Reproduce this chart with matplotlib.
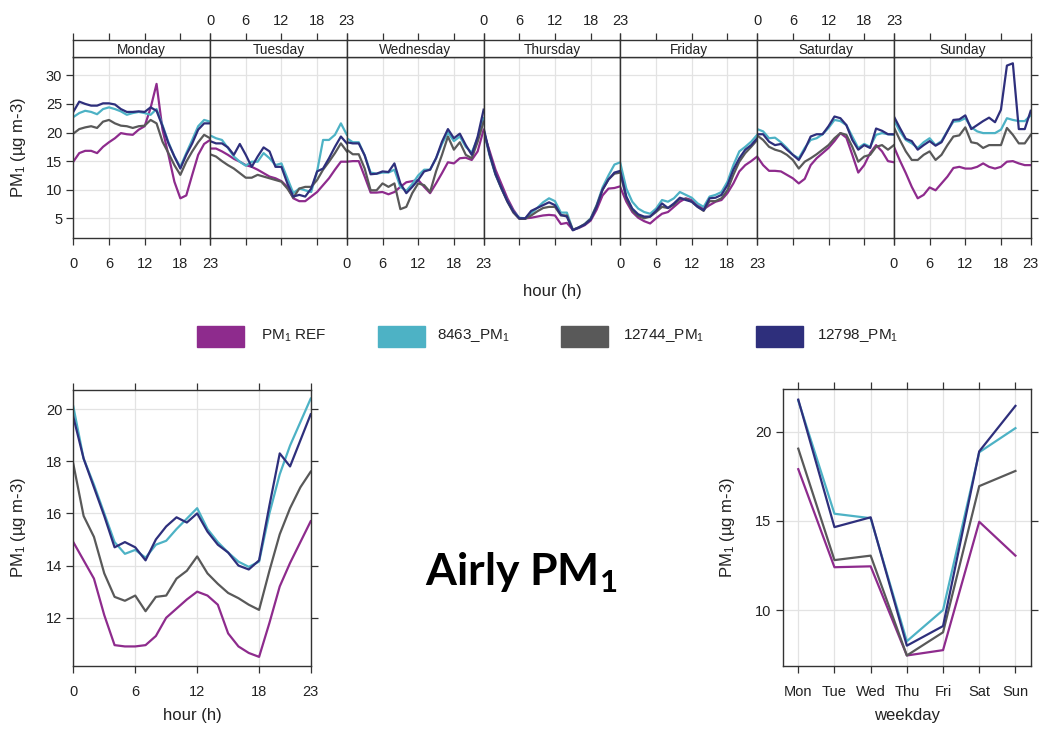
import matplotlib
matplotlib.use("Agg")
import matplotlib.pyplot as plt
from matplotlib.patches import Rectangle

plt.rcParams['font.family'] = ['Liberation Sans', 'DejaVu Sans']
plt.rcParams['mathtext.fontset'] = 'custom'
plt.rcParams['mathtext.rm'] = 'Liberation Sans'
plt.rcParams['mathtext.it'] = 'Liberation Sans:italic'
plt.rcParams['mathtext.bf'] = 'Lato:bold'

# ---- data ----
days = ['Monday', 'Tuesday', 'Wednesday', 'Thursday', 'Friday', 'Saturday', 'Sunday']
weekdays = ['Mon', 'Tue', 'Wed', 'Thu', 'Fri', 'Sat', 'Sun']
hours = list(range(24))
series_names = ['PM$_1$ REF', '8463_PM$_1$', '12744_PM$_1$', '12798_PM$_1$']
series_colors = ['#8E2B8D', '#4DB2C5', '#595959', '#2E2F7C']

# day x hour profiles, one row per weekday (Mon..Sun)
ref_dayhour = [
    [14.9, 16.4, 16.8, 16.8, 16.4, 17.5, 18.3, 19.0, 19.9, 19.7, 19.6, 20.5, 21.1, 24.3, 28.5, 20.5, 16.1, 11.4, 8.5, 9.0, 12.6, 16.1, 18.0, 18.7],
    [17.2, 17.2, 16.7, 16.1, 15.4, 14.9, 14.3, 14.0, 13.5, 12.9, 12.3, 12.0, 11.5, 10.5, 8.5, 8.0, 8.0, 8.8, 9.6, 10.8, 12.0, 13.5, 14.9, 14.9],
    [14.9, 15.0, 15.0, 12.3, 9.5, 9.5, 9.6, 9.2, 9.6, 10.5, 11.3, 11.5, 11.7, 10.5, 9.4, 11.1, 12.9, 14.8, 14.6, 15.5, 15.6, 15.2, 16.7, 20.5],
    [20.0, 16.8, 13.5, 11.0, 8.5, 6.5, 5.0, 5.0, 5.1, 5.3, 5.5, 5.6, 5.5, 4.0, 4.2, 3.0, 3.3, 3.8, 4.6, 6.5, 9.0, 10.2, 10.3, 10.6],
    [10.4, 7.9, 6.1, 5.1, 4.5, 4.1, 5.0, 5.8, 6.1, 7.0, 7.9, 8.5, 8.2, 7.3, 6.6, 7.3, 7.9, 8.2, 9.4, 11.1, 13.2, 14.3, 15.0, 15.8],
    [15.8, 14.3, 13.3, 13.3, 13.2, 12.6, 12.0, 11.1, 11.9, 14.3, 15.5, 16.4, 17.3, 18.5, 19.9, 19.1, 16.1, 13.0, 14.3, 16.4, 17.8, 16.7, 15.0, 14.8],
    [17.5, 15.1, 12.9, 10.5, 8.5, 9.1, 10.4, 9.9, 11.1, 12.3, 13.8, 14.0, 13.7, 13.7, 14.0, 14.6, 14.0, 13.7, 14.0, 14.9, 15.0, 14.6, 14.3, 14.3],
]
s8463_dayhour = [
    [22.7, 23.4, 23.8, 23.6, 23.2, 24.1, 24.4, 24.1, 23.7, 23.1, 23.4, 23.6, 23.4, 23.1, 24.1, 21.3, 18.3, 15.8, 14.0, 16.4, 18.7, 21.1, 22.2, 21.9],
    [19.5, 19.0, 18.7, 17.3, 15.8, 14.9, 14.2, 14.9, 14.9, 16.4, 15.5, 14.3, 14.6, 12.0, 9.4, 10.2, 9.9, 9.6, 13.2, 18.7, 18.7, 19.6, 21.6, 19.6],
    [19.0, 18.3, 18.3, 16.0, 13.0, 12.8, 13.0, 13.0, 13.5, 10.5, 9.8, 11.0, 12.5, 13.5, 13.5, 15.5, 18.0, 20.0, 18.5, 19.3, 17.5, 16.5, 19.0, 22.5],
    [20.3, 16.0, 12.6, 10.2, 8.0, 6.2, 5.1, 5.0, 5.9, 6.8, 7.8, 8.5, 8.0, 6.0, 6.0, 3.0, 3.4, 4.0, 5.0, 7.3, 10.4, 12.5, 14.4, 14.8],
    [14.6, 10.2, 7.9, 6.7, 6.1, 5.8, 6.7, 8.2, 7.9, 8.5, 9.6, 9.1, 8.6, 7.6, 7.0, 8.8, 9.1, 9.6, 11.4, 14.3, 16.7, 17.5, 18.4, 19.6],
    [20.6, 20.2, 19.0, 19.1, 18.3, 17.3, 16.1, 15.5, 17.3, 18.7, 19.0, 19.7, 20.8, 22.2, 22.0, 21.3, 19.3, 17.3, 18.0, 17.5, 19.6, 19.9, 19.7, 19.6],
    [22.2, 20.2, 18.7, 18.1, 17.3, 18.3, 19.0, 17.8, 18.5, 20.3, 21.9, 22.0, 22.5, 20.9, 20.2, 19.9, 19.9, 19.9, 20.5, 22.5, 22.2, 22.0, 22.0, 23.0],
]
s12744_dayhour = [
    [19.8, 20.6, 20.9, 21.1, 20.8, 21.9, 22.2, 21.6, 21.2, 21.1, 20.8, 21.1, 21.2, 22.2, 21.6, 18.4, 16.4, 14.3, 12.6, 14.9, 16.7, 18.3, 19.6, 19.0],
    [16.2, 15.8, 15.0, 14.3, 13.7, 12.9, 12.1, 12.1, 12.6, 12.3, 12.0, 11.7, 11.4, 10.2, 8.6, 10.2, 10.5, 10.5, 11.7, 13.5, 14.9, 16.4, 18.1, 16.7],
    [17.0, 16.2, 16.2, 13.7, 9.9, 9.9, 11.1, 10.5, 11.1, 6.6, 7.0, 9.4, 11.1, 10.8, 9.6, 13.2, 16.1, 19.3, 17.0, 18.3, 16.1, 15.5, 18.4, 21.9],
    [20.5, 16.2, 12.7, 10.2, 7.9, 6.0, 4.9, 4.9, 5.5, 6.2, 6.8, 7.0, 7.0, 5.5, 5.5, 3.0, 3.4, 4.0, 4.9, 7.2, 10.0, 11.8, 12.8, 13.0],
    [12.9, 8.5, 6.4, 5.4, 5.0, 5.3, 6.1, 7.0, 6.8, 7.4, 8.4, 8.4, 7.9, 7.0, 6.3, 8.0, 8.0, 8.5, 9.9, 12.6, 14.9, 16.4, 17.5, 18.7],
    [19.5, 18.7, 17.5, 17.0, 16.7, 16.1, 15.2, 13.7, 14.9, 15.5, 16.2, 17.0, 17.8, 19.0, 19.9, 19.6, 17.5, 14.9, 15.8, 16.1, 17.5, 17.8, 17.0, 17.8],
    [20.9, 18.7, 16.7, 15.2, 15.2, 16.1, 16.7, 15.2, 16.1, 17.8, 19.3, 19.5, 20.9, 18.3, 18.1, 17.3, 17.8, 17.8, 17.8, 20.8, 19.6, 18.1, 18.1, 19.6],
]
s12798_dayhour = [
    [23.6, 25.4, 25.0, 24.7, 24.7, 25.1, 25.1, 24.9, 24.1, 23.6, 23.6, 23.7, 23.6, 24.4, 23.8, 21.1, 18.1, 15.8, 13.7, 16.1, 18.1, 20.5, 21.6, 21.6],
    [18.5, 18.1, 18.1, 17.4, 16.1, 18.0, 16.1, 14.0, 15.8, 17.4, 16.7, 14.0, 14.0, 11.1, 8.8, 9.1, 8.8, 10.2, 13.2, 13.7, 15.5, 17.5, 19.3, 18.1],
    [18.3, 18.1, 18.1, 16.0, 12.7, 12.8, 13.2, 13.1, 14.6, 11.1, 9.4, 10.5, 11.7, 13.2, 13.5, 15.5, 18.4, 20.6, 19.0, 19.8, 17.8, 16.1, 19.3, 24.0],
    [20.8, 16.3, 12.8, 10.3, 8.0, 6.2, 5.0, 5.0, 6.3, 6.8, 7.3, 7.8, 7.3, 5.6, 5.3, 2.9, 3.4, 3.9, 4.8, 7.0, 10.0, 11.8, 13.0, 13.3],
    [13.2, 8.8, 6.7, 5.7, 5.3, 5.3, 6.3, 7.6, 6.8, 7.6, 8.6, 8.2, 7.9, 7.0, 6.4, 8.5, 8.6, 9.1, 10.8, 13.5, 15.5, 17.0, 17.8, 19.0],
    [19.7, 19.7, 18.4, 17.8, 18.0, 17.0, 16.1, 15.2, 17.0, 19.3, 19.7, 19.7, 21.1, 22.8, 22.5, 21.3, 18.7, 17.0, 17.8, 17.3, 20.7, 20.3, 19.7, 19.7],
    [22.8, 20.8, 18.9, 18.5, 17.0, 17.8, 18.5, 17.7, 18.3, 20.2, 22.2, 22.3, 23.0, 20.6, 21.3, 22.0, 22.6, 21.8, 24.0, 31.7, 32.1, 20.6, 20.6, 23.8],
]

# mean diurnal profile
ref_hour = [14.9, 14.2, 13.5, 12.1, 10.95, 10.9, 10.9, 10.95, 11.3, 12.0, 12.35, 12.7, 13.0, 12.85, 12.5, 11.4, 10.9, 10.65, 10.5, 11.8, 13.2, 14.1, 14.9, 15.7]
s8463_hour = [20.1, 18.1, 17.1, 16.0, 14.9, 14.45, 14.6, 14.3, 14.8, 14.95, 15.4, 15.8, 16.2, 15.4, 14.9, 14.5, 14.15, 13.95, 14.15, 16.0, 17.5, 18.6, 19.5, 20.4]
s12744_hour = [17.9, 15.9, 15.1, 13.7, 12.8, 12.65, 12.85, 12.25, 12.8, 12.85, 13.5, 13.8, 14.35, 13.7, 13.3, 12.95, 12.75, 12.5, 12.3, 13.8, 15.2, 16.2, 17.0, 17.6]
s12798_hour = [19.7, 18.1, 17.0, 15.9, 14.7, 14.9, 14.7, 14.2, 15.0, 15.5, 15.85, 15.65, 16.0, 15.3, 14.8, 14.5, 14.0, 13.85, 14.2, 16.3, 18.3, 17.8, 18.8, 19.8]

# mean by weekday
ref_week = [17.9, 12.4, 12.45, 7.45, 7.75, 14.95, 13.05]
s8463_week = [21.75, 15.4, 15.15, 8.25, 10.0, 18.85, 20.2]
s12744_week = [19.05, 12.8, 13.05, 7.45, 8.75, 16.95, 17.8]
s12798_week = [21.8, 14.65, 15.2, 8.0, 9.1, 18.9, 21.45]

dayhour = [ref_dayhour, s8463_dayhour, s12744_dayhour, s12798_dayhour]
hourly = [ref_hour, s8463_hour, s12744_hour, s12798_hour]
weekly = [ref_week, s8463_week, s12744_week, s12798_week]

# ---- figure ----
W, H = 1040, 729
fig = plt.figure(figsize=(W / 100, H / 100), dpi=100)
edge = '#333333'
gridc = '#E3E3E3'
txtc = '#222222'
ylab = 'PM$_1$ (µg m-3)'
lw = 1.6
tick_fs = 10.5
lab_fs = 12


def box(x0, y0, x1, y1):
    # pixel box (top-left origin) -> figure fraction rect
    return [x0 / W, 1 - y1 / H, (x1 - x0) / W, (y1 - y0) / H]


def style(ax):
    for sp in ax.spines.values():
        sp.set_color(edge)
        sp.set_linewidth(1.0)
    ax.grid(color=gridc, lw=0.9)
    ax.set_axisbelow(True)
    ax.tick_params(direction='out', length=5, width=0.9, color=edge,
                   labelsize=tick_fs, labelcolor=txtc, pad=3)


# top: day x hour panels
left, right = 73.3, 1030.7
pw = (right - left) / 7
for i, day in enumerate(days):
    ax = fig.add_axes(box(left + i * pw, 57.3, left + (i + 1) * pw, 238))
    for data, c in zip(dayhour, series_colors):
        ax.plot(hours, data[i], color=c, lw=lw)
    ax.set_xlim(0, 23)
    ax.set_ylim(1.56, 33.15)
    ax.set_xticks([0, 6, 12, 18, 23])
    ax.set_yticks([5, 10, 15, 20, 25, 30])
    style(ax)
    ax.tick_params(axis='x', labelbottom=(i % 2 == 0), pad=8.5)
    ax.tick_params(axis='y', left=(i == 0), labelleft=(i == 0),
                   right=(i == 6), labelright=False)
    if i == 0:
        ax.set_ylabel(ylab, fontsize=lab_fs, color=txtc)
        ax.yaxis.set_label_coords((28 - left) / pw, 0.5)
    if i == 3:
        ax.set_xlabel('hour (h)', fontsize=lab_fs, color=txtc)
        ax.xaxis.set_label_coords((552 - (left + 3 * pw)) / pw, -(284 - 238) / (238 - 57.3))

    st = fig.add_axes(box(left + i * pw, 40.3, left + (i + 1) * pw, 57.3))
    st.set_xlim(0, 23)
    st.set_yticks([])
    st.set_xticks([0, 6, 12, 18, 23])
    for sp in st.spines.values():
        sp.set_color(edge)
        sp.set_linewidth(1.0)
    st.tick_params(axis='x', bottom=False, labelbottom=False, top=True,
                   labeltop=(i % 2 == 1), direction='out', length=5, width=0.9,
                   color=edge, labelsize=tick_fs, labelcolor=txtc, pad=4)
    st.text(0.5, 0.45, day, transform=st.transAxes, ha='center', va='center',
            fontsize=9.8, color=txtc)

# legend
leg_px = [(197, 261), (378, 437), (561, 623), (756, 817)]
for (px, tx), name, c in zip(leg_px, series_names, series_colors):
    fig.patches.append(Rectangle((px / W, 1 - 347 / H), 47 / W, 21 / H,
                                 transform=fig.transFigure, color=c))
    fig.text(tx / W, 1 - 336 / H, name, fontsize=11, color=txtc, va='center')

# bottom-left: diurnal
ax = fig.add_axes(box(73.3, 390, 310.7, 666))
for data, c in zip(hourly, series_colors):
    ax.plot(hours, data, color=c, lw=lw)
ax.set_xlim(0, 23)
ax.set_ylim(10.15, 20.73)
ax.set_xticks([0, 6, 12, 18, 23])
ax.set_yticks([12, 14, 16, 18, 20])
style(ax)
ax.tick_params(top=True, right=True, labeltop=False, labelright=False)
ax.tick_params(axis='x', pad=8.5)
ax.set_xlabel('hour (h)', fontsize=lab_fs, color=txtc)
ax.xaxis.set_label_coords(0.5, -(708 - 666) / (666 - 390))
ax.set_ylabel(ylab, fontsize=lab_fs, color=txtc)
ax.yaxis.set_label_coords((28 - 73.3) / (310.7 - 73.3), 0.5)

# bottom-right: weekday
ax = fig.add_axes(box(782.7, 389.3, 1031, 666))
xs = list(range(1, 8))
for data, c in zip(weekly, series_colors):
    ax.plot(xs, data, color=c, lw=lw)
ax.set_xlim(0.57, 7.43)
ax.set_ylim(6.86, 22.38)
ax.set_xticks(xs)
ax.set_xticklabels(weekdays)
ax.set_yticks([10, 15, 20])
style(ax)
ax.tick_params(top=True, right=True, labeltop=False, labelright=False)
ax.tick_params(axis='x', pad=8.5)
ax.set_xlabel('weekday', fontsize=lab_fs, color=txtc)
ax.xaxis.set_label_coords(0.5, -(708 - 666) / (666 - 389.3))
ax.set_ylabel(ylab, fontsize=lab_fs, color=txtc)
ax.yaxis.set_label_coords((737 - 782.7) / (1031 - 782.7), 0.5)

# title
fig.text(521 / W, 1 - 573 / H, r'Airly PM$_\mathbf{1}$', fontsize=32,
         fontfamily='Lato', fontweight='bold', ha='center', va='center', color='black')

fig.savefig('out.png', dpi=100, facecolor='white')
